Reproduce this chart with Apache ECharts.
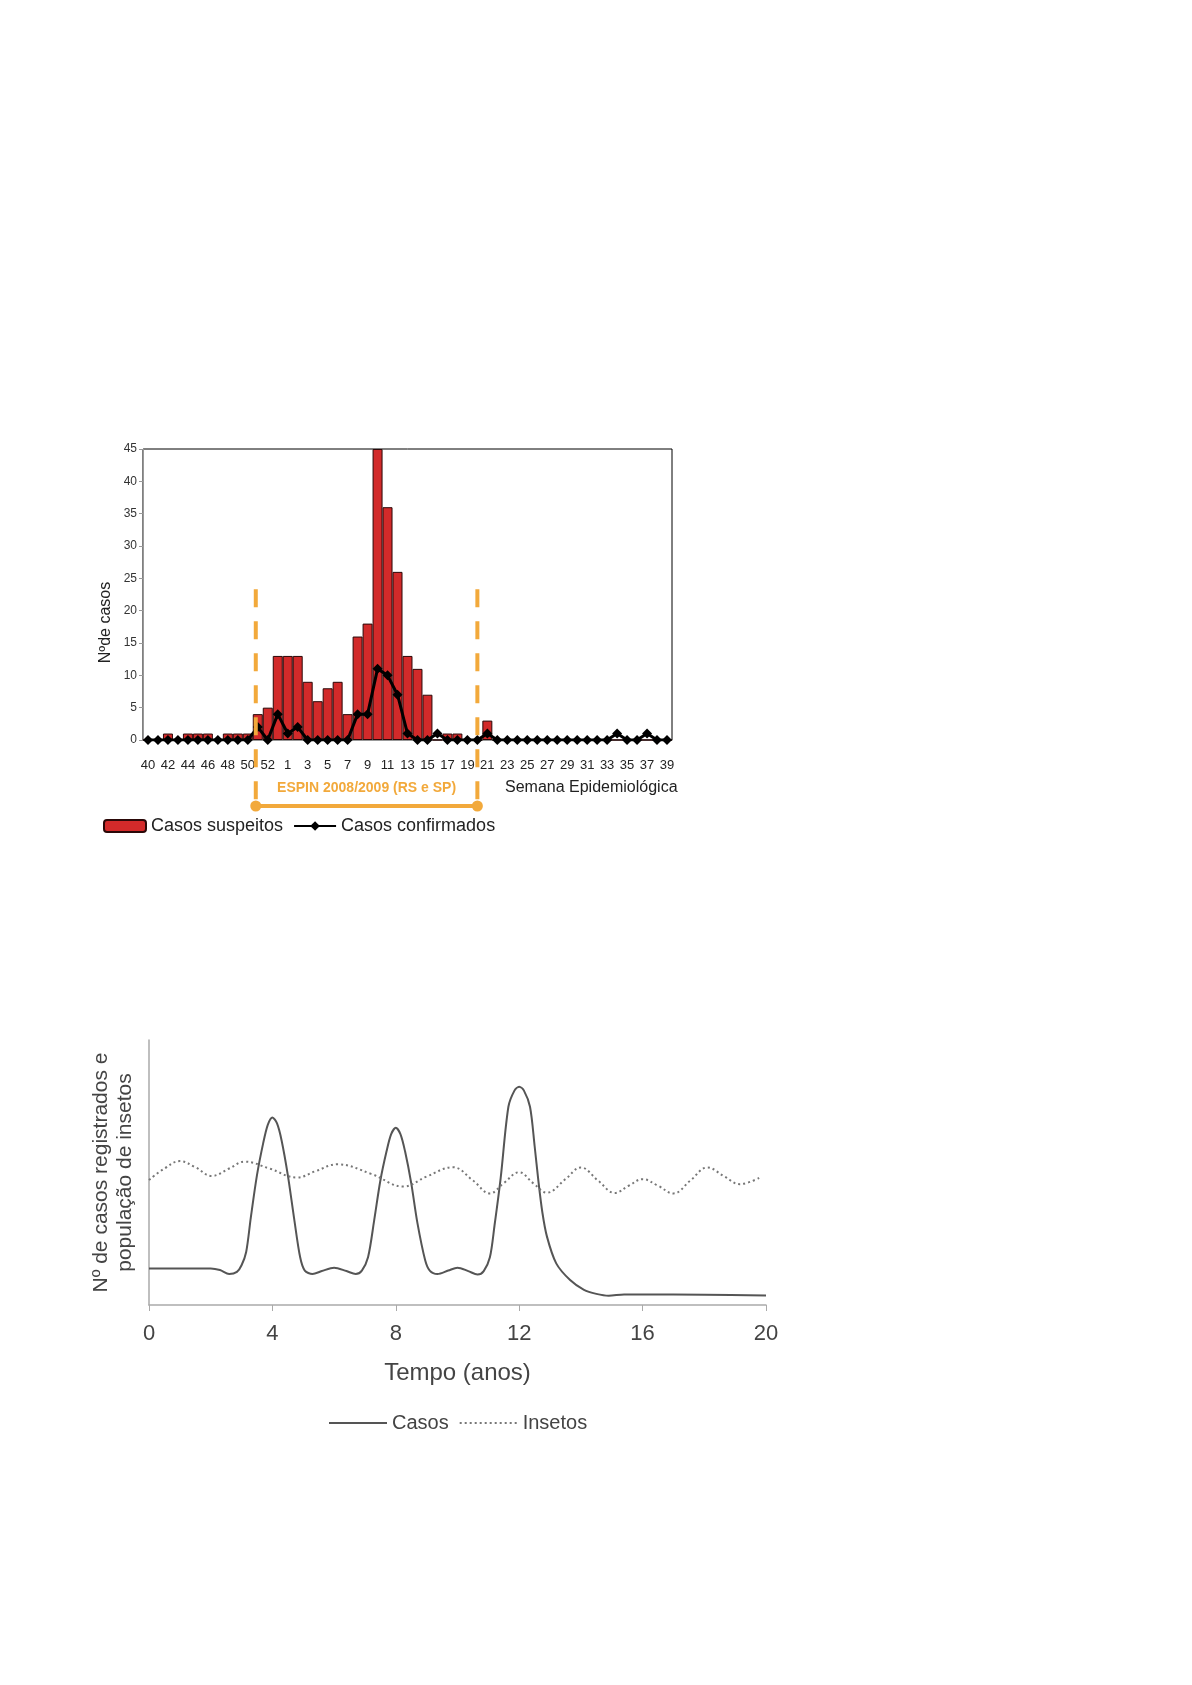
<!DOCTYPE html>
<html>
<head>
<meta charset="utf-8">
<title>Casos suspeitos e confirmados / Casos e insetos</title>
<script src="https://cdn.jsdelivr.net/npm/echarts@6/dist/echarts.min.js"></script>
</head>
<body style="margin:0;background:#fff">
<div id="main" style="width:1192px;height:1685px"></div>
<script>
// --- grafico 1: semanas epidemiologicas ---
const semanas = ['40','41','42','43','44','45','46','47','48','49','50','51','52','53',
  '1','2','3','4','5','6','7','8','9','10','11','12','13','14','15','16','17','18','19','20',
  '21','22','23','24','25','26','27','28','29','30','31','32','33','34','35','36','37','38','39'];
const casosSuspeitos = [0,0,1,0,1,1,1,0,1,1,1,4,5,13,
  13,13,9,6,8,9,4,16,18,45,36,26,13,11,7,0,1,1,0,0,
  3,0,0,0,0,0,0,0,0,0,0,0,0,0,0,0,0,0,0];
const casosConfirmados = [0,0,0,0,0,0,0,0,0,0,0,2,0,4,
  1,2,0,0,0,0,0,4,4,11,10,7,1,0,0,1,0,0,0,0,
  1,0,0,0,0,0,0,0,0,0,0,0,0,1,0,0,1,0,0];
const inicioEspin = '51';
const fimEspin = '20';

// --- grafico 2: tempo (anos) ---
const tempoCasos = [0,1,2,2.3,2.6,2.85,3.0,3.15,3.3,3.5,3.7,3.85,4.0,4.15,4.3,4.5,4.7,4.9,5.05,5.3,
  5.6,6.0,6.4,6.7,6.9,7.1,7.3,7.5,7.7,7.85,8.0,8.15,8.3,8.5,8.7,8.95,9.1,9.35,9.7,10.0,
  10.35,10.65,10.85,11.05,11.2,11.4,11.65,11.85,12.0,12.15,12.35,12.5,12.62,12.75,12.9,
  13.2,13.65,14.1,14.5,14.9,15.4,16,18,20];
const valoresCasos = [13.8,13.8,13.8,13.2,11.7,12.5,15,20,33,49,61,68,70.8,68.5,62,49,33,18,13,11.7,
  12.8,14.1,12.8,11.7,13,18,32,47,58,64.5,66.9,64.5,58,46,31,17,13,11.7,13,14.1,
  12.8,11.5,12.8,18,30,48,74.8,81,82.4,81,74.8,60,47,35,25.8,
  15.7,9.4,5.7,4.2,3.5,4.0,4.0,3.9,3.6];
const tempoInsetos = [0,0.5,1.0,1.5,2.03,2.6,3.1,3.9,4.8,5.4,6.1,7.2,8.25,9.0,9.85,10.5,11.05,
  11.5,12.0,12.45,12.9,13.5,14.0,14.55,15.1,15.55,16.0,16.5,17.0,17.55,18.1,18.65,19.15,19.85];
const valoresInsetos = [47.2,51.5,54.3,52,48.7,51.5,54.1,51.5,48.1,50.5,53.1,49.5,44.7,48.5,52,47,42.1,
  46,50.1,46,42.4,47.5,51.9,47,42.3,45,47.5,45,42.1,47,51.9,48.5,45.6,48.4];
const ticksTempo = [0, 20, 4];

const laranja = '#f2a93b';
const fonte = '"Liberation Sans", Arial, sans-serif';

let chart = echarts.init(document.getElementById('main'));

chart.setOption({
  animation: false,
  textStyle: { fontFamily: fonte },
  grid: [
    { left: 143, top: 449, width: 529, height: 291, show: true, borderColor: '#000', borderWidth: 1 },
    { left: 149, top: 1040, width: 617, height: 265 }
  ],
  legend: [
    {
      data: ['Casos suspeitos', 'Casos confirmados'],
      left: 103, top: 817, padding: 0,
      itemWidth: 42, itemHeight: 12, itemGap: 10,
      textStyle: { fontSize: 18, color: '#222' }
    },
    {
      data: ['Casos', 'Insetos'],
      left: 328, top: 1413, padding: 0,
      itemWidth: 58, itemHeight: 10, itemGap: 10,
      itemStyle: { opacity: 0 },
      textStyle: { fontSize: 20, color: '#444' }
    }
  ],
  xAxis: [
    {
      type: 'category', gridIndex: 0, data: semanas,
      axisLine: { lineStyle: { color: '#999' } },
      axisTick: { inside: true, length: 4, interval: 0, lineStyle: { color: '#555' } },
      axisLabel: { interval: 1, fontSize: 13, color: '#222', margin: 19 }
    },
    {
      type: 'value', gridIndex: 1,
      min: ticksTempo[0], max: ticksTempo[1], interval: ticksTempo[2],
      splitLine: { show: false },
      axisLine: { lineStyle: { color: '#aaa', width: 1.5 } },
      axisTick: { show: true, length: 6, lineStyle: { color: '#aaa' } },
      axisLabel: { fontSize: 22, color: '#444', margin: 18 },
      name: 'Tempo (anos)', nameLocation: 'middle', nameGap: 56,
      nameTextStyle: { fontSize: 24, color: '#444' }
    }
  ],
  yAxis: [
    {
      type: 'value', gridIndex: 0, min: 0, max: 45, interval: 5,
      splitLine: { show: false },
      axisLine: { show: true, lineStyle: { color: '#999' } },
      axisTick: { show: true, length: 4, lineStyle: { color: '#999' } },
      axisLabel: { fontSize: 12, color: '#333', margin: 6 },
      name: 'Nºde casos', nameLocation: 'middle', nameGap: 29,
      nameTextStyle: { fontSize: 16, color: '#222', padding: [0, 56, 0, 0] }
    },
    {
      type: 'value', gridIndex: 1, min: 0, max: 100,
      splitLine: { show: false },
      axisLine: { show: true, lineStyle: { color: '#aaa', width: 1.5 } },
      axisTick: { show: false },
      axisLabel: { show: false },
      name: 'Nº de casos registrados e\npopulação de insetos',
      nameLocation: 'middle', nameGap: 12,
      nameTextStyle: { fontSize: 21, lineHeight: 24, color: '#444' }
    }
  ],
  series: [
    {
      name: 'Casos suspeitos', type: 'bar', xAxisIndex: 0, yAxisIndex: 0,
      data: casosSuspeitos, barCategoryGap: '0%',
      itemStyle: { color: '#d22a2a', borderColor: '#2a0808', borderWidth: 1 }
    },
    {
      name: 'Casos confirmados', type: 'line', xAxisIndex: 0, yAxisIndex: 0,
      data: casosConfirmados, symbol: 'diamond', symbolSize: 10, showAllSymbol: true, z: 3,
      itemStyle: { color: '#000' }, lineStyle: { color: '#000', width: 3 }
    },
    {
      name: 'Casos', type: 'line', xAxisIndex: 1, yAxisIndex: 1,
      data: tempoCasos.map((t, i) => [t, valoresCasos[i]]),
      smooth: 0.3, symbol: 'none',
      itemStyle: { color: '#555' }, lineStyle: { color: '#555', width: 2 }
    },
    {
      name: 'Insetos', type: 'line', xAxisIndex: 1, yAxisIndex: 1,
      data: tempoInsetos.map((t, i) => [t, valoresInsetos[i]]),
      smooth: 0.4, symbol: 'none',
      itemStyle: { color: '#777' }, lineStyle: { color: '#777', width: 2, type: [2, 3] }
    }
  ]
});

// ESPIN bracket: positions taken from the category axis
let xIni = chart.convertToPixel({ xAxisIndex: 0 }, inicioEspin) - 2;
let xFim = chart.convertToPixel({ xAxisIndex: 0 }, fimEspin);
let yTopo = chart.convertToPixel({ yAxisIndex: 0 }, 23.3);
let yZero = chart.convertToPixel({ yAxisIndex: 0 }, 0);
let yChave = yZero + 66;
let tracejado = { stroke: laranja, lineWidth: 4, lineDash: [18, 14] };

chart.setOption({
  graphic: [
    { type: 'line', shape: { x1: xIni, y1: yTopo, x2: xIni, y2: yChave }, style: tracejado, z: 10 },
    { type: 'line', shape: { x1: xFim, y1: yTopo, x2: xFim, y2: yChave }, style: tracejado, z: 10 },
    { type: 'line', shape: { x1: xIni, y1: yChave, x2: xFim, y2: yChave }, style: { stroke: laranja, lineWidth: 4 } },
    { type: 'circle', shape: { cx: xIni, cy: yChave, r: 5.5 }, style: { fill: laranja } },
    { type: 'circle', shape: { cx: xFim, cy: yChave, r: 5.5 }, style: { fill: laranja } },
    {
      type: 'text', x: (xIni + xFim) / 2, y: yZero + 48,
      style: { text: 'ESPIN 2008/2009 (RS e SP)', fill: laranja, font: 'bold 14px ' + fonte,
        textAlign: 'center', textVerticalAlign: 'middle' }
    },
    {
      type: 'text', x: 505, y: yZero + 48,
      style: { text: 'Semana Epidemiológica', fill: '#222', font: '16px ' + fonte,
        textAlign: 'left', textVerticalAlign: 'middle' }
    }
  ]
});
</script>
</body>
</html>
